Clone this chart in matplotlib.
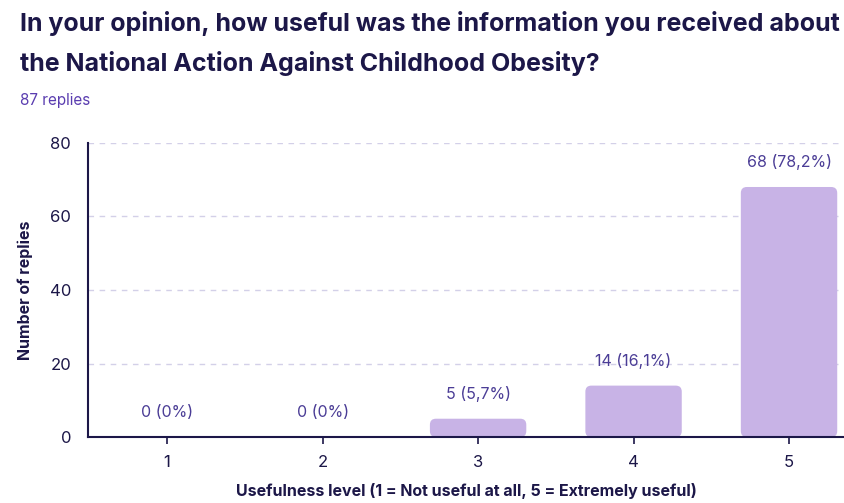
import matplotlib
matplotlib.use('Agg')
import matplotlib.pyplot as plt
from matplotlib.patches import FancyBboxPatch

# Survey answers: usefulness level vs number of replies
levels = ['1', '2', '3', '4', '5']
replies = [0, 0, 5, 14, 68]
percent_labels = ['0 (0%)', '0 (0%)', '5 (5,7%)', '14 (16,1%)', '68 (78,2%)']
y_ticks = [0, 20, 40, 60, 80]

navy = '#1c1748'
purple_text = '#4b3d96'
bar_color = '#c8b3e6'
grid_color = '#d3d0e8'

plt.rcParams['font.family'] = ['Inter', 'DejaVu Sans']

fig = plt.figure(figsize=(8.45, 5.03), dpi=100)
ax = fig.add_axes([0.104, 0.131, 0.896, 0.585])

x = list(range(1, len(levels) + 1))
bars = ax.bar(x, replies, width=0.62, color=bar_color)

ax.set_xlim(0.49, 5.36)
ax.set_ylim(0, 80)

# swap the plain rectangles for rounded ones
fig.canvas.draw()
px_x = ax.transData.transform((1, 0))[0] - ax.transData.transform((0, 0))[0]
px_y = ax.transData.transform((0, 1))[1] - ax.transData.transform((0, 0))[1]
for b in bars:
    b.set_visible(False)
    if b.get_height() <= 0:
        continue
    r = 6 / px_x
    rounded = FancyBboxPatch((b.get_x(), b.get_y()), b.get_width(), b.get_height(),
                             boxstyle='round,pad=0,rounding_size=%f' % r,
                             mutation_aspect=px_x / px_y,
                             facecolor=bar_color, edgecolor='none', zorder=2)
    ax.add_patch(rounded)

for xi, val, lab in zip(x, replies, percent_labels):
    ax.annotate(lab, (xi, val), xytext=(0, 12), textcoords='offset points',
                ha='center', va='bottom', fontsize=11.5, color=purple_text)

ax.set_yticks(y_ticks)
ax.set_xticks(x)
ax.set_xticklabels(levels)
ax.tick_params(axis='y', length=0, labelsize=12, labelcolor=navy, pad=12)
ax.tick_params(axis='x', length=5, width=1.2, color=navy, labelsize=12,
               labelcolor=navy, pad=8)

ax.grid(axis='y', linestyle=(0, (4, 4)), color=grid_color, linewidth=1)
ax.set_axisbelow(True)
for s in ['top', 'right']:
    ax.spines[s].set_visible(False)
for s in ['left', 'bottom']:
    ax.spines[s].set_color(navy)
    ax.spines[s].set_linewidth(1.5)

ax.set_ylabel('Number of replies', fontsize=11.5, fontweight='bold', color=navy, labelpad=12)
ax.set_xlabel('Usefulness level (1 = Not useful at all, 5 = Extremely useful)',
              fontsize=11.5, fontweight='bold', color=navy, labelpad=9)

fig.text(0.024, 0.978, 'In your opinion, how useful was the information you received about\n'
         'the National Action Against Childhood Obesity?',
         fontsize=18, fontweight='bold', color=navy, va='top', linespacing=1.75)
fig.text(0.024, 0.80, '87 replies', fontsize=11, color='#5a3db0', va='center')

fig.savefig('out.png', dpi=100)
